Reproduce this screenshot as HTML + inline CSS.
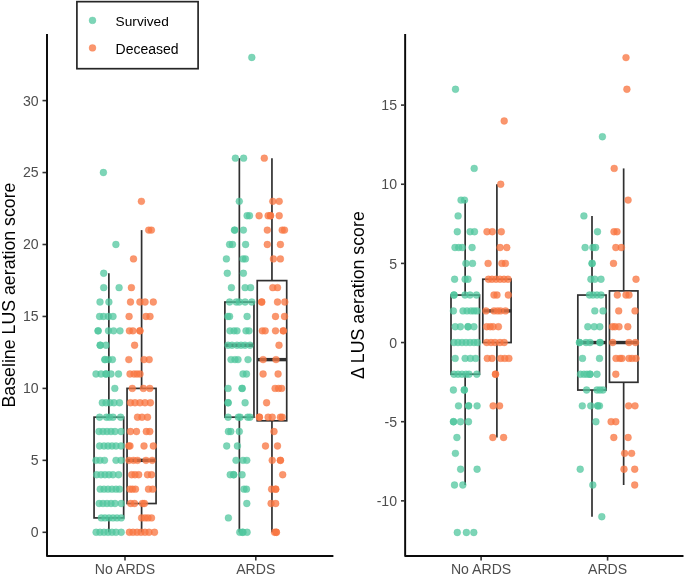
<!DOCTYPE html><html><head><meta charset="utf-8"><style>html,body{margin:0;padding:0;background:#fff;}svg{display:block;will-change:transform;}text{font-family:"Liberation Sans",sans-serif;}</style></head><body>
<svg width="685" height="576" viewBox="0 0 685 576">
<rect width="685" height="576" fill="#fff"/>
<line x1="108.86" y1="273.28" x2="108.86" y2="417.18" stroke="#303030" stroke-width="1.7"/>
<line x1="108.86" y1="517.91" x2="108.86" y2="532.30" stroke="#303030" stroke-width="1.7"/>
<rect x="94.06" y="417.18" width="29.60" height="100.73" fill="#fff" stroke="#303030" stroke-width="1.7"/>
<line x1="141.6" y1="230.11" x2="141.6" y2="388.40" stroke="#303030" stroke-width="1.7"/>
<line x1="141.6" y1="503.52" x2="141.6" y2="532.30" stroke="#303030" stroke-width="1.7"/>
<rect x="127.05" y="388.40" width="29.01" height="115.12" fill="#fff" stroke="#303030" stroke-width="1.7"/>
<line x1="127.05" y1="460.35" x2="156.06" y2="460.35" stroke="#303030" stroke-width="3.4"/>
<line x1="239.35" y1="158.16" x2="239.35" y2="302.06" stroke="#303030" stroke-width="1.7"/>
<line x1="239.35" y1="417.18" x2="239.35" y2="532.30" stroke="#303030" stroke-width="1.7"/>
<rect x="224.88" y="302.06" width="29.08" height="115.12" fill="#fff" stroke="#303030" stroke-width="1.7"/>
<line x1="224.88" y1="345.23" x2="253.96" y2="345.23" stroke="#303030" stroke-width="3.4"/>
<line x1="271.95" y1="158.16" x2="271.95" y2="280.60" stroke="#303030" stroke-width="1.7"/>
<line x1="271.95" y1="420.80" x2="271.95" y2="532.30" stroke="#303030" stroke-width="1.7"/>
<rect x="257.23" y="280.60" width="29.48" height="140.20" fill="#fff" stroke="#303030" stroke-width="1.7"/>
<line x1="257.23" y1="359.62" x2="286.71" y2="359.62" stroke="#303030" stroke-width="3.4"/>
<line x1="465.15" y1="200.08" x2="465.15" y2="295.06" stroke="#303030" stroke-width="1.7"/>
<line x1="465.15" y1="374.21" x2="465.15" y2="485.02" stroke="#303030" stroke-width="1.7"/>
<rect x="451.0" y="295.06" width="28.50" height="79.15" fill="#fff" stroke="#303030" stroke-width="1.7"/>
<line x1="496.9" y1="184.25" x2="496.9" y2="279.23" stroke="#303030" stroke-width="1.7"/>
<line x1="496.9" y1="342.55" x2="496.9" y2="437.53" stroke="#303030" stroke-width="1.7"/>
<rect x="482.8" y="279.23" width="28.30" height="63.32" fill="#fff" stroke="#303030" stroke-width="1.7"/>
<line x1="482.8" y1="310.89" x2="511.1" y2="310.89" stroke="#303030" stroke-width="3.4"/>
<line x1="592.0" y1="215.91" x2="592.0" y2="295.06" stroke="#303030" stroke-width="1.7"/>
<line x1="592.0" y1="390.04" x2="592.0" y2="516.68" stroke="#303030" stroke-width="1.7"/>
<rect x="577.83" y="295.06" width="28.24" height="94.98" fill="#fff" stroke="#303030" stroke-width="1.7"/>
<line x1="577.83" y1="342.55" x2="606.07" y2="342.55" stroke="#303030" stroke-width="3.4"/>
<line x1="623.65" y1="168.42" x2="623.65" y2="290.90" stroke="#303030" stroke-width="1.7"/>
<line x1="623.65" y1="382.30" x2="623.65" y2="485.02" stroke="#303030" stroke-width="1.7"/>
<rect x="609.46" y="290.90" width="28.48" height="91.40" fill="#fff" stroke="#303030" stroke-width="1.7"/>
<line x1="609.46" y1="342.55" x2="637.94" y2="342.55" stroke="#303030" stroke-width="3.4"/>
<g fill="#50c69e" fill-opacity="0.74" stroke="#50c69e" stroke-opacity="0.74" stroke-width="0.4"><circle cx="103.4" cy="172.55" r="3.45"/><circle cx="115.9" cy="244.50" r="3.45"/><circle cx="103.7" cy="273.28" r="3.45"/><circle cx="103.7" cy="287.67" r="3.45"/><circle cx="119.1" cy="287.67" r="3.45"/><circle cx="100" cy="302.06" r="3.45"/><circle cx="108.9" cy="302.06" r="3.45"/><circle cx="99.6" cy="316.45" r="3.45"/><circle cx="103.5" cy="316.45" r="3.45"/><circle cx="108.4" cy="316.45" r="3.45"/><circle cx="113" cy="316.45" r="3.45"/><circle cx="98.1" cy="330.84" r="3.45"/><circle cx="98.1" cy="330.84" r="3.45"/><circle cx="108.5" cy="330.84" r="3.45"/><circle cx="113.6" cy="330.84" r="3.45"/><circle cx="120" cy="330.84" r="3.45"/><circle cx="100.2" cy="345.23" r="3.45"/><circle cx="100.2" cy="345.23" r="3.45"/><circle cx="106" cy="345.23" r="3.45"/><circle cx="104.9" cy="359.62" r="3.45"/><circle cx="104.9" cy="359.62" r="3.45"/><circle cx="108.4" cy="359.62" r="3.45"/><circle cx="112.4" cy="359.62" r="3.45"/><circle cx="96" cy="374.01" r="3.45"/><circle cx="101" cy="374.01" r="3.45"/><circle cx="106" cy="374.01" r="3.45"/><circle cx="106" cy="374.01" r="3.45"/><circle cx="111" cy="374.01" r="3.45"/><circle cx="118.5" cy="374.01" r="3.45"/><circle cx="114.8" cy="388.40" r="3.45"/><circle cx="102.3" cy="402.79" r="3.45"/><circle cx="106" cy="402.79" r="3.45"/><circle cx="110" cy="402.79" r="3.45"/><circle cx="114" cy="402.79" r="3.45"/><circle cx="119.5" cy="402.79" r="3.45"/><circle cx="99.6" cy="417.18" r="3.45"/><circle cx="106.5" cy="417.18" r="3.45"/><circle cx="109.5" cy="417.18" r="3.45"/><circle cx="113" cy="417.18" r="3.45"/><circle cx="120.6" cy="417.18" r="3.45"/><circle cx="99" cy="431.57" r="3.45"/><circle cx="103" cy="431.57" r="3.45"/><circle cx="107" cy="431.57" r="3.45"/><circle cx="111" cy="431.57" r="3.45"/><circle cx="115" cy="431.57" r="3.45"/><circle cx="121" cy="431.57" r="3.45"/><circle cx="99.6" cy="445.96" r="3.45"/><circle cx="104" cy="445.96" r="3.45"/><circle cx="108" cy="445.96" r="3.45"/><circle cx="112" cy="445.96" r="3.45"/><circle cx="116" cy="445.96" r="3.45"/><circle cx="121" cy="445.96" r="3.45"/><circle cx="96" cy="460.35" r="3.45"/><circle cx="100" cy="460.35" r="3.45"/><circle cx="104.5" cy="460.35" r="3.45"/><circle cx="116" cy="460.35" r="3.45"/><circle cx="121" cy="460.35" r="3.45"/><circle cx="96.7" cy="474.74" r="3.45"/><circle cx="101" cy="474.74" r="3.45"/><circle cx="105" cy="474.74" r="3.45"/><circle cx="109" cy="474.74" r="3.45"/><circle cx="113" cy="474.74" r="3.45"/><circle cx="118.6" cy="474.74" r="3.45"/><circle cx="100.2" cy="489.13" r="3.45"/><circle cx="104" cy="489.13" r="3.45"/><circle cx="108" cy="489.13" r="3.45"/><circle cx="112" cy="489.13" r="3.45"/><circle cx="116" cy="489.13" r="3.45"/><circle cx="119.5" cy="489.13" r="3.45"/><circle cx="99.2" cy="503.52" r="3.45"/><circle cx="103" cy="503.52" r="3.45"/><circle cx="107" cy="503.52" r="3.45"/><circle cx="111" cy="503.52" r="3.45"/><circle cx="115" cy="503.52" r="3.45"/><circle cx="121.2" cy="503.52" r="3.45"/><circle cx="101.3" cy="517.91" r="3.45"/><circle cx="105" cy="517.91" r="3.45"/><circle cx="109" cy="517.91" r="3.45"/><circle cx="113" cy="517.91" r="3.45"/><circle cx="117" cy="517.91" r="3.45"/><circle cx="121.2" cy="517.91" r="3.45"/><circle cx="96.1" cy="532.30" r="3.45"/><circle cx="100" cy="532.30" r="3.45"/><circle cx="104" cy="532.30" r="3.45"/><circle cx="108" cy="532.30" r="3.45"/><circle cx="112" cy="532.30" r="3.45"/><circle cx="116" cy="532.30" r="3.45"/><circle cx="121.2" cy="532.30" r="3.45"/></g>
<g fill="#f87642" fill-opacity="0.77" stroke="#f87642" stroke-opacity="0.77" stroke-width="0.4"><circle cx="141.4" cy="201.33" r="3.45"/><circle cx="148.7" cy="230.11" r="3.45"/><circle cx="151.4" cy="230.11" r="3.45"/><circle cx="133.5" cy="258.89" r="3.45"/><circle cx="131.4" cy="287.67" r="3.45"/><circle cx="130.5" cy="302.06" r="3.45"/><circle cx="139.9" cy="302.06" r="3.45"/><circle cx="145.1" cy="302.06" r="3.45"/><circle cx="153.3" cy="302.06" r="3.45"/><circle cx="129.1" cy="316.45" r="3.45"/><circle cx="146" cy="316.45" r="3.45"/><circle cx="150" cy="316.45" r="3.45"/><circle cx="129.4" cy="330.84" r="3.45"/><circle cx="132.9" cy="330.84" r="3.45"/><circle cx="139.9" cy="330.84" r="3.45"/><circle cx="139.9" cy="330.84" r="3.45"/><circle cx="134.6" cy="345.23" r="3.45"/><circle cx="128.8" cy="359.62" r="3.45"/><circle cx="144" cy="359.62" r="3.45"/><circle cx="149.2" cy="359.62" r="3.45"/><circle cx="130" cy="374.01" r="3.45"/><circle cx="134" cy="374.01" r="3.45"/><circle cx="137" cy="374.01" r="3.45"/><circle cx="140" cy="374.01" r="3.45"/><circle cx="132.3" cy="388.40" r="3.45"/><circle cx="143.4" cy="388.40" r="3.45"/><circle cx="149.8" cy="388.40" r="3.45"/><circle cx="130.5" cy="402.79" r="3.45"/><circle cx="135" cy="402.79" r="3.45"/><circle cx="140" cy="402.79" r="3.45"/><circle cx="145" cy="402.79" r="3.45"/><circle cx="150.4" cy="402.79" r="3.45"/><circle cx="137.5" cy="417.18" r="3.45"/><circle cx="142" cy="417.18" r="3.45"/><circle cx="147.5" cy="417.18" r="3.45"/><circle cx="130.5" cy="431.57" r="3.45"/><circle cx="136.5" cy="431.57" r="3.45"/><circle cx="146.3" cy="431.57" r="3.45"/><circle cx="149.8" cy="431.57" r="3.45"/><circle cx="128.8" cy="445.96" r="3.45"/><circle cx="130" cy="445.96" r="3.45"/><circle cx="144" cy="445.96" r="3.45"/><circle cx="153.3" cy="445.96" r="3.45"/><circle cx="129" cy="460.35" r="3.45"/><circle cx="133.5" cy="460.35" r="3.45"/><circle cx="137.5" cy="460.35" r="3.45"/><circle cx="146" cy="460.35" r="3.45"/><circle cx="152.2" cy="460.35" r="3.45"/><circle cx="131.7" cy="474.74" r="3.45"/><circle cx="135" cy="474.74" r="3.45"/><circle cx="138.7" cy="474.74" r="3.45"/><circle cx="147.5" cy="474.74" r="3.45"/><circle cx="151.5" cy="474.74" r="3.45"/><circle cx="130" cy="489.13" r="3.45"/><circle cx="132.5" cy="489.13" r="3.45"/><circle cx="135.5" cy="489.13" r="3.45"/><circle cx="148.5" cy="489.13" r="3.45"/><circle cx="152.7" cy="489.13" r="3.45"/><circle cx="130.7" cy="503.52" r="3.45"/><circle cx="134.5" cy="503.52" r="3.45"/><circle cx="142.5" cy="503.52" r="3.45"/><circle cx="144.4" cy="503.52" r="3.45"/><circle cx="141.6" cy="517.91" r="3.45"/><circle cx="145" cy="517.91" r="3.45"/><circle cx="148" cy="517.91" r="3.45"/><circle cx="151.5" cy="517.91" r="3.45"/><circle cx="129.4" cy="532.30" r="3.45"/><circle cx="133" cy="532.30" r="3.45"/><circle cx="137" cy="532.30" r="3.45"/><circle cx="141" cy="532.30" r="3.45"/><circle cx="145" cy="532.30" r="3.45"/><circle cx="149" cy="532.30" r="3.45"/><circle cx="154.5" cy="532.30" r="3.45"/></g>
<g fill="#50c69e" fill-opacity="0.74" stroke="#50c69e" stroke-opacity="0.74" stroke-width="0.4"><circle cx="251.8" cy="57.43" r="3.45"/><circle cx="235.4" cy="158.16" r="3.45"/><circle cx="243.6" cy="158.16" r="3.45"/><circle cx="239.3" cy="201.33" r="3.45"/><circle cx="247.1" cy="215.72" r="3.45"/><circle cx="249.5" cy="215.72" r="3.45"/><circle cx="234.6" cy="230.11" r="3.45"/><circle cx="234.6" cy="230.11" r="3.45"/><circle cx="243.4" cy="230.11" r="3.45"/><circle cx="229.6" cy="244.50" r="3.45"/><circle cx="232.5" cy="244.50" r="3.45"/><circle cx="245.6" cy="244.50" r="3.45"/><circle cx="226.4" cy="258.89" r="3.45"/><circle cx="243" cy="258.89" r="3.45"/><circle cx="245.4" cy="258.89" r="3.45"/><circle cx="227.3" cy="273.28" r="3.45"/><circle cx="243.4" cy="273.28" r="3.45"/><circle cx="231.4" cy="287.67" r="3.45"/><circle cx="245.1" cy="287.67" r="3.45"/><circle cx="250.6" cy="287.67" r="3.45"/><circle cx="229.6" cy="302.06" r="3.45"/><circle cx="236.3" cy="302.06" r="3.45"/><circle cx="239.3" cy="302.06" r="3.45"/><circle cx="245.1" cy="302.06" r="3.45"/><circle cx="251.8" cy="302.06" r="3.45"/><circle cx="227.8" cy="316.45" r="3.45"/><circle cx="229.6" cy="316.45" r="3.45"/><circle cx="247.1" cy="316.45" r="3.45"/><circle cx="230" cy="330.84" r="3.45"/><circle cx="234" cy="330.84" r="3.45"/><circle cx="237" cy="330.84" r="3.45"/><circle cx="246" cy="330.84" r="3.45"/><circle cx="249" cy="330.84" r="3.45"/><circle cx="228" cy="345.23" r="3.45"/><circle cx="232" cy="345.23" r="3.45"/><circle cx="237" cy="345.23" r="3.45"/><circle cx="241" cy="345.23" r="3.45"/><circle cx="245" cy="345.23" r="3.45"/><circle cx="250" cy="345.23" r="3.45"/><circle cx="231" cy="359.62" r="3.45"/><circle cx="235" cy="359.62" r="3.45"/><circle cx="238" cy="359.62" r="3.45"/><circle cx="248" cy="359.62" r="3.45"/><circle cx="243" cy="374.01" r="3.45"/><circle cx="246.5" cy="374.01" r="3.45"/><circle cx="228.1" cy="388.40" r="3.45"/><circle cx="242.1" cy="388.40" r="3.45"/><circle cx="242.1" cy="388.40" r="3.45"/><circle cx="228.1" cy="402.79" r="3.45"/><circle cx="228.1" cy="402.79" r="3.45"/><circle cx="245.1" cy="402.79" r="3.45"/><circle cx="228.1" cy="417.18" r="3.45"/><circle cx="238.4" cy="417.18" r="3.45"/><circle cx="240.1" cy="417.18" r="3.45"/><circle cx="247.7" cy="417.18" r="3.45"/><circle cx="250" cy="417.18" r="3.45"/><circle cx="228.4" cy="431.57" r="3.45"/><circle cx="230.8" cy="431.57" r="3.45"/><circle cx="239.3" cy="431.57" r="3.45"/><circle cx="226.7" cy="445.96" r="3.45"/><circle cx="237.4" cy="445.96" r="3.45"/><circle cx="236" cy="460.35" r="3.45"/><circle cx="243" cy="460.35" r="3.45"/><circle cx="246.8" cy="460.35" r="3.45"/><circle cx="230.2" cy="474.74" r="3.45"/><circle cx="233.7" cy="474.74" r="3.45"/><circle cx="233.7" cy="474.74" r="3.45"/><circle cx="242.1" cy="474.74" r="3.45"/><circle cx="244" cy="489.13" r="3.45"/><circle cx="246.5" cy="489.13" r="3.45"/><circle cx="246.8" cy="503.52" r="3.45"/><circle cx="228.4" cy="517.91" r="3.45"/><circle cx="239.8" cy="532.30" r="3.45"/><circle cx="242.5" cy="532.30" r="3.45"/><circle cx="243" cy="532.30" r="3.45"/><circle cx="247.1" cy="532.30" r="3.45"/></g>
<g fill="#f87642" fill-opacity="0.77" stroke="#f87642" stroke-opacity="0.77" stroke-width="0.4"><circle cx="264.3" cy="158.16" r="3.45"/><circle cx="272.8" cy="201.33" r="3.45"/><circle cx="279.2" cy="201.33" r="3.45"/><circle cx="259.1" cy="215.72" r="3.45"/><circle cx="268.1" cy="215.72" r="3.45"/><circle cx="270.5" cy="215.72" r="3.45"/><circle cx="270.5" cy="215.72" r="3.45"/><circle cx="279.2" cy="215.72" r="3.45"/><circle cx="267.3" cy="230.11" r="3.45"/><circle cx="282.2" cy="230.11" r="3.45"/><circle cx="284.5" cy="230.11" r="3.45"/><circle cx="267.3" cy="244.50" r="3.45"/><circle cx="280.4" cy="244.50" r="3.45"/><circle cx="273.4" cy="258.89" r="3.45"/><circle cx="280.4" cy="258.89" r="3.45"/><circle cx="272.8" cy="287.67" r="3.45"/><circle cx="277.5" cy="287.67" r="3.45"/><circle cx="261.7" cy="302.06" r="3.45"/><circle cx="261.7" cy="302.06" r="3.45"/><circle cx="277.5" cy="302.06" r="3.45"/><circle cx="284.8" cy="302.06" r="3.45"/><circle cx="275.5" cy="316.45" r="3.45"/><circle cx="284.5" cy="316.45" r="3.45"/><circle cx="262.3" cy="330.84" r="3.45"/><circle cx="265.2" cy="330.84" r="3.45"/><circle cx="275.5" cy="330.84" r="3.45"/><circle cx="283.3" cy="330.84" r="3.45"/><circle cx="283.3" cy="330.84" r="3.45"/><circle cx="279" cy="345.23" r="3.45"/><circle cx="263.1" cy="359.62" r="3.45"/><circle cx="276" cy="359.62" r="3.45"/><circle cx="263.1" cy="374.01" r="3.45"/><circle cx="278.1" cy="374.01" r="3.45"/><circle cx="275.1" cy="388.40" r="3.45"/><circle cx="278.6" cy="388.40" r="3.45"/><circle cx="281.6" cy="388.40" r="3.45"/><circle cx="266.6" cy="402.79" r="3.45"/><circle cx="259.4" cy="417.18" r="3.45"/><circle cx="259.4" cy="417.18" r="3.45"/><circle cx="268.1" cy="417.18" r="3.45"/><circle cx="272.2" cy="417.18" r="3.45"/><circle cx="280.4" cy="417.18" r="3.45"/><circle cx="282.2" cy="417.18" r="3.45"/><circle cx="274" cy="431.57" r="3.45"/><circle cx="265.5" cy="445.96" r="3.45"/><circle cx="277.5" cy="445.96" r="3.45"/><circle cx="272.2" cy="460.35" r="3.45"/><circle cx="280.4" cy="460.35" r="3.45"/><circle cx="280.4" cy="460.35" r="3.45"/><circle cx="282.7" cy="474.74" r="3.45"/><circle cx="271.6" cy="489.13" r="3.45"/><circle cx="275.7" cy="489.13" r="3.45"/><circle cx="275.7" cy="489.13" r="3.45"/><circle cx="271.1" cy="503.52" r="3.45"/><circle cx="275.7" cy="503.52" r="3.45"/><circle cx="274.6" cy="532.30" r="3.45"/><circle cx="276.3" cy="532.30" r="3.45"/><circle cx="276.3" cy="532.30" r="3.45"/></g>
<g fill="#50c69e" fill-opacity="0.74" stroke="#50c69e" stroke-opacity="0.74" stroke-width="0.4"><circle cx="455.5" cy="89.27" r="3.45"/><circle cx="474.2" cy="168.42" r="3.45"/><circle cx="461" cy="200.08" r="3.45"/><circle cx="464.5" cy="200.08" r="3.45"/><circle cx="458.1" cy="215.91" r="3.45"/><circle cx="457.3" cy="231.74" r="3.45"/><circle cx="470.1" cy="231.74" r="3.45"/><circle cx="474.5" cy="231.74" r="3.45"/><circle cx="455" cy="247.57" r="3.45"/><circle cx="458.7" cy="247.57" r="3.45"/><circle cx="462.2" cy="247.57" r="3.45"/><circle cx="472.1" cy="247.57" r="3.45"/><circle cx="465.9" cy="263.40" r="3.45"/><circle cx="472.5" cy="263.40" r="3.45"/><circle cx="454.6" cy="279.23" r="3.45"/><circle cx="465.1" cy="279.23" r="3.45"/><circle cx="468" cy="279.23" r="3.45"/><circle cx="454" cy="295.06" r="3.45"/><circle cx="454" cy="295.06" r="3.45"/><circle cx="465" cy="295.06" r="3.45"/><circle cx="470" cy="295.06" r="3.45"/><circle cx="476.5" cy="295.06" r="3.45"/><circle cx="453.4" cy="310.89" r="3.45"/><circle cx="463" cy="310.89" r="3.45"/><circle cx="467" cy="310.89" r="3.45"/><circle cx="471" cy="310.89" r="3.45"/><circle cx="474" cy="310.89" r="3.45"/><circle cx="477" cy="310.89" r="3.45"/><circle cx="455.2" cy="326.72" r="3.45"/><circle cx="460.4" cy="326.72" r="3.45"/><circle cx="468" cy="326.72" r="3.45"/><circle cx="468" cy="326.72" r="3.45"/><circle cx="473.9" cy="326.72" r="3.45"/><circle cx="454" cy="342.55" r="3.45"/><circle cx="458" cy="342.55" r="3.45"/><circle cx="462" cy="342.55" r="3.45"/><circle cx="466" cy="342.55" r="3.45"/><circle cx="470" cy="342.55" r="3.45"/><circle cx="474" cy="342.55" r="3.45"/><circle cx="477.4" cy="342.55" r="3.45"/><circle cx="455.2" cy="358.38" r="3.45"/><circle cx="465.1" cy="358.38" r="3.45"/><circle cx="470.4" cy="358.38" r="3.45"/><circle cx="475.6" cy="358.38" r="3.45"/><circle cx="454" cy="374.21" r="3.45"/><circle cx="458" cy="374.21" r="3.45"/><circle cx="462" cy="374.21" r="3.45"/><circle cx="466" cy="374.21" r="3.45"/><circle cx="469" cy="374.21" r="3.45"/><circle cx="476.8" cy="374.21" r="3.45"/><circle cx="453.4" cy="390.04" r="3.45"/><circle cx="464.3" cy="390.04" r="3.45"/><circle cx="464.3" cy="390.04" r="3.45"/><circle cx="458.5" cy="405.87" r="3.45"/><circle cx="468.6" cy="405.87" r="3.45"/><circle cx="468.6" cy="405.87" r="3.45"/><circle cx="477.1" cy="405.87" r="3.45"/><circle cx="453.5" cy="421.70" r="3.45"/><circle cx="453.5" cy="421.70" r="3.45"/><circle cx="460.5" cy="421.70" r="3.45"/><circle cx="468.5" cy="421.70" r="3.45"/><circle cx="456.9" cy="437.53" r="3.45"/><circle cx="455.4" cy="453.36" r="3.45"/><circle cx="460.6" cy="469.19" r="3.45"/><circle cx="477.1" cy="469.19" r="3.45"/><circle cx="454.5" cy="485.02" r="3.45"/><circle cx="462.8" cy="485.02" r="3.45"/><circle cx="457.3" cy="532.51" r="3.45"/><circle cx="466.4" cy="532.51" r="3.45"/><circle cx="473.8" cy="532.51" r="3.45"/></g>
<g fill="#f87642" fill-opacity="0.77" stroke="#f87642" stroke-opacity="0.77" stroke-width="0.4"><circle cx="504.2" cy="120.93" r="3.45"/><circle cx="500.7" cy="184.25" r="3.45"/><circle cx="487" cy="231.74" r="3.45"/><circle cx="492.3" cy="231.74" r="3.45"/><circle cx="501.3" cy="231.74" r="3.45"/><circle cx="500.1" cy="247.57" r="3.45"/><circle cx="506.8" cy="247.57" r="3.45"/><circle cx="488.1" cy="263.40" r="3.45"/><circle cx="501.9" cy="263.40" r="3.45"/><circle cx="505.4" cy="263.40" r="3.45"/><circle cx="488.5" cy="279.23" r="3.45"/><circle cx="492" cy="279.23" r="3.45"/><circle cx="496" cy="279.23" r="3.45"/><circle cx="500" cy="279.23" r="3.45"/><circle cx="504" cy="279.23" r="3.45"/><circle cx="508" cy="279.23" r="3.45"/><circle cx="494" cy="295.06" r="3.45"/><circle cx="497" cy="295.06" r="3.45"/><circle cx="508.3" cy="295.06" r="3.45"/><circle cx="486" cy="310.89" r="3.45"/><circle cx="494" cy="310.89" r="3.45"/><circle cx="497.5" cy="310.89" r="3.45"/><circle cx="500.5" cy="310.89" r="3.45"/><circle cx="505.5" cy="310.89" r="3.45"/><circle cx="486.7" cy="326.72" r="3.45"/><circle cx="490.2" cy="326.72" r="3.45"/><circle cx="493.1" cy="326.72" r="3.45"/><circle cx="498.4" cy="326.72" r="3.45"/><circle cx="486.7" cy="342.55" r="3.45"/><circle cx="491" cy="342.55" r="3.45"/><circle cx="495" cy="342.55" r="3.45"/><circle cx="500" cy="342.55" r="3.45"/><circle cx="504.2" cy="342.55" r="3.45"/><circle cx="487.3" cy="358.38" r="3.45"/><circle cx="492" cy="358.38" r="3.45"/><circle cx="500.7" cy="358.38" r="3.45"/><circle cx="504.8" cy="358.38" r="3.45"/><circle cx="508.9" cy="358.38" r="3.45"/><circle cx="495.5" cy="374.21" r="3.45"/><circle cx="495.5" cy="374.21" r="3.45"/><circle cx="493.1" cy="405.87" r="3.45"/><circle cx="499.6" cy="405.87" r="3.45"/><circle cx="492.8" cy="437.53" r="3.45"/><circle cx="503.6" cy="437.53" r="3.45"/></g>
<g fill="#50c69e" fill-opacity="0.74" stroke="#50c69e" stroke-opacity="0.74" stroke-width="0.4"><circle cx="602.4" cy="136.76" r="3.45"/><circle cx="583.9" cy="215.91" r="3.45"/><circle cx="597.5" cy="231.74" r="3.45"/><circle cx="585.1" cy="247.57" r="3.45"/><circle cx="592.8" cy="247.57" r="3.45"/><circle cx="595.6" cy="247.57" r="3.45"/><circle cx="592.1" cy="263.40" r="3.45"/><circle cx="592.1" cy="263.40" r="3.45"/><circle cx="590.9" cy="279.23" r="3.45"/><circle cx="594.8" cy="279.23" r="3.45"/><circle cx="601" cy="279.23" r="3.45"/><circle cx="589.5" cy="295.06" r="3.45"/><circle cx="593" cy="295.06" r="3.45"/><circle cx="597" cy="295.06" r="3.45"/><circle cx="601" cy="295.06" r="3.45"/><circle cx="594.8" cy="310.89" r="3.45"/><circle cx="603" cy="310.89" r="3.45"/><circle cx="587.8" cy="326.72" r="3.45"/><circle cx="594.2" cy="326.72" r="3.45"/><circle cx="599.8" cy="326.72" r="3.45"/><circle cx="579.5" cy="342.55" r="3.45"/><circle cx="579.5" cy="342.55" r="3.45"/><circle cx="586" cy="342.55" r="3.45"/><circle cx="590" cy="342.55" r="3.45"/><circle cx="600" cy="342.55" r="3.45"/><circle cx="600" cy="342.55" r="3.45"/><circle cx="582.5" cy="358.38" r="3.45"/><circle cx="599.5" cy="358.38" r="3.45"/><circle cx="580.5" cy="374.21" r="3.45"/><circle cx="584" cy="374.21" r="3.45"/><circle cx="587" cy="374.21" r="3.45"/><circle cx="590" cy="374.21" r="3.45"/><circle cx="590" cy="374.21" r="3.45"/><circle cx="597" cy="374.21" r="3.45"/><circle cx="586.6" cy="390.04" r="3.45"/><circle cx="597" cy="390.04" r="3.45"/><circle cx="600" cy="390.04" r="3.45"/><circle cx="603" cy="390.04" r="3.45"/><circle cx="582.3" cy="405.87" r="3.45"/><circle cx="590.7" cy="405.87" r="3.45"/><circle cx="597.7" cy="405.87" r="3.45"/><circle cx="597.7" cy="405.87" r="3.45"/><circle cx="599.5" cy="405.87" r="3.45"/><circle cx="595.9" cy="421.70" r="3.45"/><circle cx="580.2" cy="469.19" r="3.45"/><circle cx="592.8" cy="485.02" r="3.45"/><circle cx="601.8" cy="516.68" r="3.45"/></g>
<g fill="#f87642" fill-opacity="0.77" stroke="#f87642" stroke-opacity="0.77" stroke-width="0.4"><circle cx="626" cy="57.61" r="3.45"/><circle cx="626.9" cy="89.27" r="3.45"/><circle cx="614.2" cy="168.42" r="3.45"/><circle cx="628.1" cy="200.08" r="3.45"/><circle cx="614" cy="231.74" r="3.45"/><circle cx="617" cy="231.74" r="3.45"/><circle cx="615.8" cy="247.57" r="3.45"/><circle cx="621.3" cy="247.57" r="3.45"/><circle cx="613.5" cy="263.40" r="3.45"/><circle cx="636" cy="279.23" r="3.45"/><circle cx="617.3" cy="295.06" r="3.45"/><circle cx="626" cy="295.06" r="3.45"/><circle cx="629" cy="295.06" r="3.45"/><circle cx="618.7" cy="310.89" r="3.45"/><circle cx="635" cy="310.89" r="3.45"/><circle cx="612.5" cy="326.72" r="3.45"/><circle cx="615" cy="326.72" r="3.45"/><circle cx="619" cy="326.72" r="3.45"/><circle cx="627.8" cy="326.72" r="3.45"/><circle cx="612.7" cy="342.55" r="3.45"/><circle cx="629" cy="342.55" r="3.45"/><circle cx="635.5" cy="342.55" r="3.45"/><circle cx="616" cy="358.38" r="3.45"/><circle cx="620" cy="358.38" r="3.45"/><circle cx="622" cy="358.38" r="3.45"/><circle cx="629" cy="358.38" r="3.45"/><circle cx="632" cy="358.38" r="3.45"/><circle cx="636" cy="358.38" r="3.45"/><circle cx="615.8" cy="374.21" r="3.45"/><circle cx="628.6" cy="405.87" r="3.45"/><circle cx="635" cy="405.87" r="3.45"/><circle cx="611.1" cy="421.70" r="3.45"/><circle cx="615.8" cy="421.70" r="3.45"/><circle cx="613.8" cy="437.53" r="3.45"/><circle cx="628.1" cy="437.53" r="3.45"/><circle cx="624.6" cy="453.36" r="3.45"/><circle cx="631.6" cy="453.36" r="3.45"/><circle cx="624" cy="469.19" r="3.45"/><circle cx="634.7" cy="469.19" r="3.45"/><circle cx="634.7" cy="485.02" r="3.45"/></g>
<path d="M47 34 V555.9 H333.4" fill="none" stroke="#0a0a0a" stroke-width="1.95" stroke-linejoin="round"/>
<path d="M405.15 34 V555.9 H683.5" fill="none" stroke="#0a0a0a" stroke-width="1.95" stroke-linejoin="round"/>
<line x1="42.5" y1="532.30" x2="46" y2="532.30" stroke="#333333" stroke-width="1.6"/>
<text x="38.6" y="537.20" font-size="14.1" fill="#4d4d4d" text-anchor="end">0</text>
<line x1="42.5" y1="460.35" x2="46" y2="460.35" stroke="#333333" stroke-width="1.6"/>
<text x="38.6" y="465.25" font-size="14.1" fill="#4d4d4d" text-anchor="end">5</text>
<line x1="42.5" y1="388.40" x2="46" y2="388.40" stroke="#333333" stroke-width="1.6"/>
<text x="38.6" y="393.30" font-size="14.1" fill="#4d4d4d" text-anchor="end">10</text>
<line x1="42.5" y1="316.45" x2="46" y2="316.45" stroke="#333333" stroke-width="1.6"/>
<text x="38.6" y="321.35" font-size="14.1" fill="#4d4d4d" text-anchor="end">15</text>
<line x1="42.5" y1="244.50" x2="46" y2="244.50" stroke="#333333" stroke-width="1.6"/>
<text x="38.6" y="249.40" font-size="14.1" fill="#4d4d4d" text-anchor="end">20</text>
<line x1="42.5" y1="172.55" x2="46" y2="172.55" stroke="#333333" stroke-width="1.6"/>
<text x="38.6" y="177.45" font-size="14.1" fill="#4d4d4d" text-anchor="end">25</text>
<line x1="42.5" y1="100.60" x2="46" y2="100.60" stroke="#333333" stroke-width="1.6"/>
<text x="38.6" y="105.50" font-size="14.1" fill="#4d4d4d" text-anchor="end">30</text>
<line x1="401" y1="500.85" x2="404.3" y2="500.85" stroke="#333333" stroke-width="1.6"/>
<text x="397.0" y="506.05" font-size="14.1" fill="#4d4d4d" text-anchor="end">-10</text>
<line x1="401" y1="421.70" x2="404.3" y2="421.70" stroke="#333333" stroke-width="1.6"/>
<text x="397.0" y="426.90" font-size="14.1" fill="#4d4d4d" text-anchor="end">-5</text>
<line x1="401" y1="342.55" x2="404.3" y2="342.55" stroke="#333333" stroke-width="1.6"/>
<text x="397.0" y="347.75" font-size="14.1" fill="#4d4d4d" text-anchor="end">0</text>
<line x1="401" y1="263.40" x2="404.3" y2="263.40" stroke="#333333" stroke-width="1.6"/>
<text x="397.0" y="268.60" font-size="14.1" fill="#4d4d4d" text-anchor="end">5</text>
<line x1="401" y1="184.25" x2="404.3" y2="184.25" stroke="#333333" stroke-width="1.6"/>
<text x="397.0" y="189.45" font-size="14.1" fill="#4d4d4d" text-anchor="end">10</text>
<line x1="401" y1="105.10" x2="404.3" y2="105.10" stroke="#333333" stroke-width="1.6"/>
<text x="397.0" y="110.30" font-size="14.1" fill="#4d4d4d" text-anchor="end">15</text>
<line x1="125.0" y1="556.9" x2="125.0" y2="560.6" stroke="#333333" stroke-width="1.6"/>
<text x="125.0" y="573.9" font-size="14.1" fill="#4d4d4d" text-anchor="middle">No ARDS</text>
<line x1="255.8" y1="556.9" x2="255.8" y2="560.6" stroke="#333333" stroke-width="1.6"/>
<text x="255.8" y="573.9" font-size="14.1" fill="#4d4d4d" text-anchor="middle">ARDS</text>
<line x1="481.1" y1="556.9" x2="481.1" y2="560.6" stroke="#333333" stroke-width="1.6"/>
<text x="481.1" y="573.9" font-size="14.1" fill="#4d4d4d" text-anchor="middle">No ARDS</text>
<line x1="607.6" y1="556.9" x2="607.6" y2="560.6" stroke="#333333" stroke-width="1.6"/>
<text x="607.6" y="573.9" font-size="14.1" fill="#4d4d4d" text-anchor="middle">ARDS</text>
<text transform="translate(14.7,295) rotate(-90)" font-size="17.75" fill="#000" text-anchor="middle">Baseline LUS aeration score</text>
<text transform="translate(364.2,295.1) rotate(-90)" font-size="17.75" fill="#000" text-anchor="middle">&#916; LUS aeration score</text>
<rect x="76.9" y="1.65" width="121.2" height="67.05" fill="#fff" stroke="#262626" stroke-width="1.7"/>
<circle cx="92.5" cy="20.4" r="3.45" fill="#50c69e" fill-opacity="0.74" stroke="#50c69e" stroke-opacity="0.74" stroke-width="0.4"/>
<circle cx="92.5" cy="47.9" r="3.45" fill="#f87642" fill-opacity="0.77" stroke="#f87642" stroke-opacity="0.77" stroke-width="0.4"/>
<text x="115.6" y="26.1" font-size="13.7" fill="#000">Survived</text>
<text x="115.6" y="53.6" font-size="14" fill="#000">Deceased</text>
</svg></body></html>
